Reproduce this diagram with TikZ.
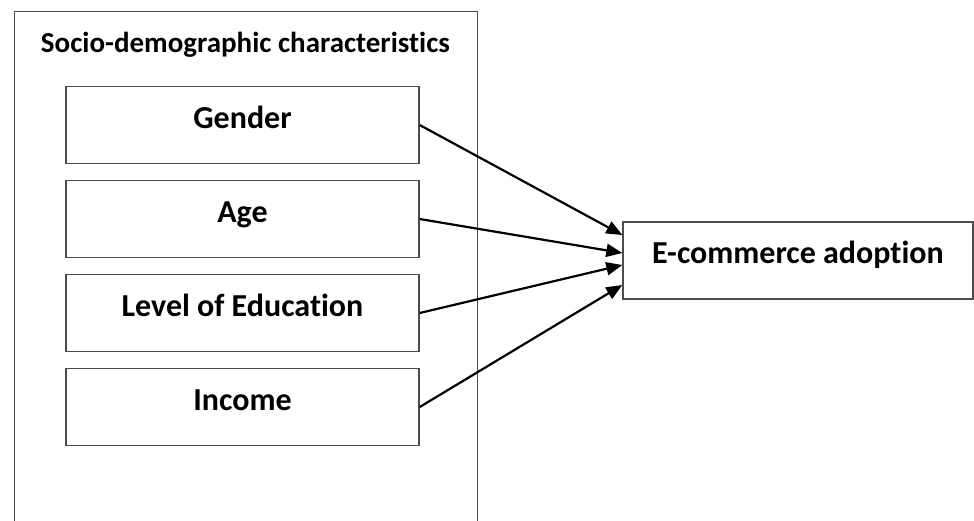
\documentclass[tikz,border=0pt]{standalone}
\usepackage{fontspec}
\setmainfont{Carlito}[RawFeature=-liga]
\usetikzlibrary{arrows.meta}

\begin{document}
\begin{tikzpicture}[x=1pt, y=1pt,
  font=\fontsize{32}{38}\selectfont\bfseries,
  frame/.style={draw=black!70, line width=1.4pt},
  factorbox/.style={frame, minimum width=353pt, minimum height=77pt,
    inner sep=0pt, text height=20pt, text depth=14pt},
  link/.style={line width=2.2pt, -{Triangle[length=16pt, width=13pt]}}]

\useasboundingbox (0,0) rectangle (974,-520);

% --- layout settings ---
\def\fx{242.5}  % centre of the factor boxes
\def\fh{94}     % distance between factor boxes

% outer frame, runs off the bottom edge
\node[frame, anchor=north west, minimum width=463pt, minimum height=540pt,
  inner sep=0pt] (socio) at (14,-11) {};
\node[anchor=base, font=\fontsize{29}{35}\selectfont\bfseries] (title)
  at (245.5,-52) {Socio-demographic characteristics};

% Helper: one factor box: name, row, text
\newcommand{\factorbox}[3]{%
  \node[factorbox] (#1) at (\fx, -125-#2*\fh) {#3};
}

\factorbox{gender}{0}{Gender}
\factorbox{age}{1}{Age}
\factorbox{edu}{2}{Level of Education}
\factorbox{income}{3}{Income}

% outcome
\node[factorbox, minimum width=350pt] (ecom) at (798,-260.5) {E-commerce adoption};

% arrows
\draw[link] (gender.east) -- ([yshift=25.5pt]ecom.west);
\draw[link] (age.east)    -- ([yshift=7.5pt]ecom.west);
\draw[link] (edu.east)    -- ([yshift=-4.5pt]ecom.west);
\draw[link] (income.east) -- ([yshift=-24.5pt]ecom.west);

\end{tikzpicture}
\end{document}
